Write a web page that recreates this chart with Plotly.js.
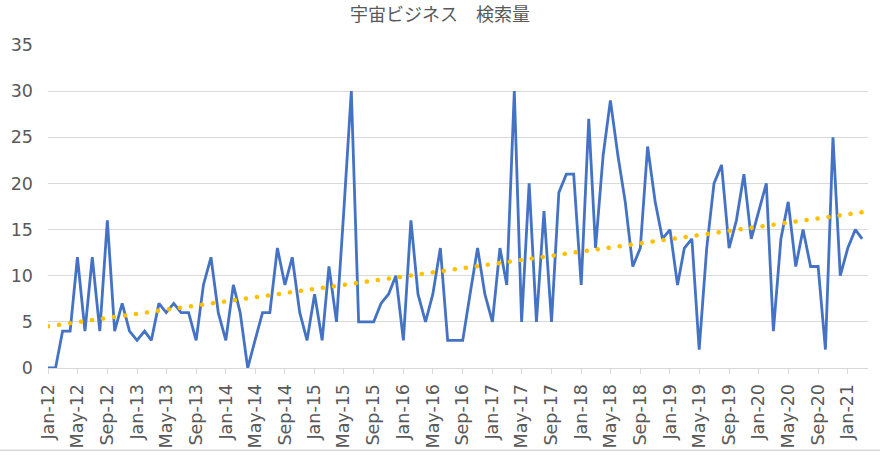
<!DOCTYPE html>
<html>
<head>
<meta charset="utf-8">
<script src="https://cdn.plot.ly/plotly-3.0.1.min.js"></script>
<style>
  body { margin: 0; background: #fff; }
  #plot { width: 880px; height: 455px; }
</style>
</head>
<body>
<div id="plot"></div>
<script>
// monthly search volume, Jan-12 .. Mar-21
const firstYear = 2012;
const searches = [
  0, 0, 4, 4, 12, 4, 12, 4, 16, 4, 7, 4,
  3, 4, 3, 7, 6, 7, 6, 6, 3, 9, 12, 6,
  3, 9, 6, 0, 3, 6, 6, 13, 9, 12, 6, 3,
  8, 3, 11, 5, 17, 30, 5, 5, 5, 7, 8, 10,
  3, 16, 8, 5, 8, 13, 3, 3, 3, 8, 13, 8,
  5, 13, 9, 30, 5, 20, 5, 17, 5, 19, 21, 21,
  9, 27, 13, 23, 29, 23, 18, 11, 13, 24, 18, 14,
  15, 9, 13, 14, 2, 13, 20, 22, 13, 16, 21, 14,
  17, 20, 4, 14, 18, 11, 15, 11, 11, 2, 25, 10,
  13, 15, 14
];
const yTicks = [0, 5, 10, 15, 20, 25, 30, 35];

let months = [];
for (let i = 0; i < searches.length; i++) {
  let y = firstYear + Math.floor(i / 12);
  let m = (i % 12) + 1;
  months.push(y + "-" + String(m).padStart(2, "0") + "-01");
}

// linear trend like Excel's trendline (least squares over the point index)
function linearTrend(vals) {
  let n = vals.length, sx = 0, sy = 0, sxy = 0, sxx = 0;
  for (let i = 0; i < n; i++) {
    sx += i; sy += vals[i]; sxy += i * vals[i]; sxx += i * i;
  }
  let b = (n * sxy - sx * sy) / (n * sxx - sx * sx);
  let a = (sy - b * sx) / n;
  return [a, a + b * (n - 1)];
}
const trendEnds = linearTrend(searches);

const tickFont = { family: "DejaVu Sans, sans-serif", size: 17.5, color: "#595959" };

var searchLine = {
  x: months,
  y: searches,
  mode: "lines",
  type: "scatter",
  line: { color: "#4472C4", width: 2.8 },
  hoverinfo: "x+y"
};

var trendLine = {
  x: [months[0], months[months.length - 1]],
  y: trendEnds,
  mode: "lines",
  type: "scatter",
  line: { color: "#FFC000", width: 4.5, dash: "dot" },
  hoverinfo: "skip"
};

var layout = {
  width: 880,
  height: 455,
  margin: { l: 48, r: 12, t: 45, b: 87 },
  paper_bgcolor: "#ffffff",
  plot_bgcolor: "#ffffff",
  showlegend: false,
  title: {
    text: "宇宙ビジネス\u2002\u2002検索量",
    font: { family: "Noto Sans CJK JP, sans-serif", size: 18, color: "#595959" },
    x: 0.5,
    xanchor: "center",
    y: 0.968,
    yanchor: "middle"
  },
  xaxis: {
    type: "date",
    range: ["2012-01-01", "2021-03-25"],
    tick0: "2012-01-01",
    dtick: "M4",
    tickformat: "%b-%y",
    tickangle: -90,
    ticks: "outside",
    ticklen: 5,
    tickcolor: "#d9d9d9",
    ticklabelstandoff: 3,
    showline: true,
    linecolor: "#d9d9d9",
    linewidth: 1,
    showgrid: false,
    zeroline: false,
    tickfont: tickFont
  },
  yaxis: {
    range: [0, 35],
    tickvals: yTicks,
    ticks: "",
    ticklabelstandoff: 14,
    showgrid: true,
    gridcolor: "#d9d9d9",
    gridwidth: 1,
    zeroline: false,
    showline: false,
    tickfont: tickFont
  },
  shapes: [{
    type: "line", xref: "paper", yref: "paper",
    x0: -0.06, x1: 1.02, y0: -0.255, y1: -0.255,
    line: { color: "#d9d9d9", width: 1.5 }
  }]
};

Plotly.newPlot("plot", [searchLine, trendLine], layout, { displayModeBar: false }).then(function () {
  // round dots for the trend line, as in Excel
  var traces = document.querySelectorAll("#plot .scatterlayer .trace");
  var path = traces[1].querySelector(".js-line");
  path.style.strokeLinecap = "round";
  path.style.strokeDasharray = "0.1px, 11px";
});
</script>
</body>
</html>
